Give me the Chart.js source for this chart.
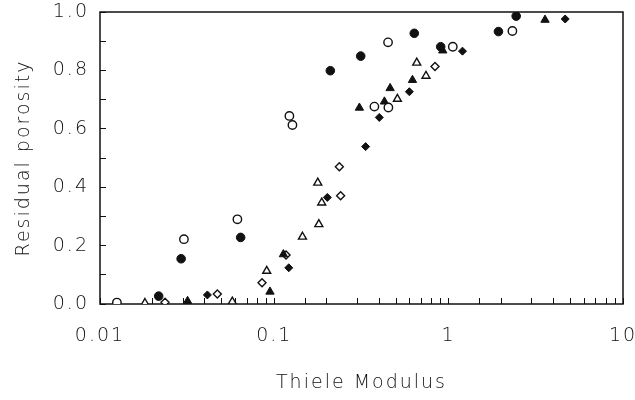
<!DOCTYPE html>
<html>
<head>
<meta charset="utf-8">
<script src="https://cdn.jsdelivr.net/npm/chart.js@4/dist/chart.umd.min.js"></script>
<style>
  html, body { margin: 0; padding: 0; background: #fff; }
  #wrap { width: 635px; height: 400px; position: relative; }
</style>
</head>
<body>
<div id="wrap"><canvas id="porosityChart"></canvas></div>
<script>
// Thiele modulus (x) vs residual porosity (y)
const filledCircleX = [0.0217, 0.0292, 0.0641, 0.2095, 0.313, 0.635, 0.90, 1.93, 2.44];
const filledCircleY = [0.027, 0.155, 0.228, 0.799, 0.849, 0.927, 0.881, 0.933, 0.986];

const openCircleX = [0.0125, 0.0303, 0.0614, 0.122, 0.127, 0.375, 0.451, 0.449, 1.056, 2.32];
const openCircleY = [0.005, 0.222, 0.290, 0.644, 0.613, 0.676, 0.673, 0.896, 0.881, 0.935];

const filledTriangleX = [0.0318, 0.0944, 0.1127, 0.3076, 0.428, 0.4616, 0.62, 0.925, 3.57];
const filledTriangleY = [0.010, 0.042, 0.170, 0.672, 0.693, 0.739, 0.767, 0.868, 0.973];

const openTriangleX = [0.0181, 0.0574, 0.0904, 0.145, 0.1775, 0.180, 0.187, 0.508, 0.656, 0.741];
const openTriangleY = [0.003, 0.008, 0.113, 0.230, 0.415, 0.273, 0.347, 0.702, 0.826, 0.781];

const filledDiamondX = [0.0413, 0.121, 0.2014, 0.334, 0.400, 0.595, 1.20, 4.66];
const filledDiamondY = [0.031, 0.124, 0.365, 0.539, 0.639, 0.727, 0.866, 0.976];

const openDiamondX = [0.0236, 0.0471, 0.085, 0.1167, 0.236, 0.240, 0.835];
const openDiamondY = [0.006, 0.034, 0.073, 0.168, 0.470, 0.371, 0.813];

const xTickLabels = ['0.01', '0.1', '1', '10'];
const yTickLabels = ['0.0', '0.2', '0.4', '0.6', '0.8', '1.0'];

const fontFamily = "'DejaVu Sans', 'Liberation Sans', sans-serif";
const ink = '#111';
const textFont = { size: 19, family: fontFamily, weight: 200 };

const pairUp = (xs, ys) => xs.map((x, i) => ({ x, y: ys[i] }));

const makeSet = (label, xs, ys, style, filled, radius) => ({
    label,
    data: pairUp(xs, ys),
    pointStyle: style,
    pointRadius: radius,
    pointHoverRadius: radius,
    borderColor: ink,
    backgroundColor: filled ? ink : '#fff',
    pointBorderWidth: filled ? 1 : 1.4,
    showLine: false,
});

// plot frame round the chart area + the wide letter spacing of the original
const framePlugin = {
    id: 'frame',
    beforeDraw(chart) {
        chart.ctx.letterSpacing = '2px';
    },
    beforeDatasetsDraw(chart) {
        const { ctx, chartArea: a } = chart;
        ctx.save();
        ctx.strokeStyle = ink;
        ctx.lineWidth = 1.5;
        ctx.strokeRect(a.left, a.top, a.right - a.left, a.bottom - a.top);
        ctx.restore();
    },
};

const ctx = document.getElementById('porosityChart').getContext('2d');
new Chart(ctx, {
    type: 'scatter',
    data: {
        datasets: [
            makeSet('open circles', openCircleX, openCircleY, 'circle', false, 4.2),
            makeSet('filled circles', filledCircleX, filledCircleY, 'circle', true, 4.3),
            makeSet('open triangles', openTriangleX, openTriangleY, 'triangle', false, 4.6),
            makeSet('filled triangles', filledTriangleX, filledTriangleY, 'triangle', true, 4.8),
            makeSet('open diamonds', openDiamondX, openDiamondY, 'rectRot', false, 4),
            makeSet('filled diamonds', filledDiamondX, filledDiamondY, 'rectRot', true, 4),
        ],
    },
    options: {
        responsive: true,
        maintainAspectRatio: false,
        animation: false,
        layout: { padding: { top: 12, right: 12, left: 0, bottom: 0 }, autoPadding: false },
        plugins: {
            legend: { display: false },
            tooltip: { enabled: false },
        },
        scales: {
            x: {
                type: 'logarithmic',
                min: 0.01,
                max: 10,
                border: { display: false },
                grid: { drawOnChartArea: false, drawTicks: true, tickLength: -6, color: ink, lineWidth: 1 },
                ticks: {
                    autoSkip: false,
                    maxRotation: 0,
                    padding: 27,
                    color: ink,
                    font: textFont,
                    callback: value => {
                        const e = Math.log10(value);
                        if (Math.abs(e - Math.round(e)) > 1e-9) return '';
                        return xTickLabels[Math.round(e) + 2] ?? '';
                    },
                },
                title: {
                    display: true,
                    text: 'Thiele Modulus',
                    color: ink,
                    font: textFont,
                    padding: { top: 0, bottom: 6 },
                },
                afterFit: scale => {
                    scale.height = 96;
                    scale.paddingLeft = 0;
                    scale.paddingRight = 0;
                },
            },
            y: {
                min: 0,
                max: 1,
                border: { display: false },
                grid: { drawOnChartArea: false, drawTicks: true, tickLength: -6, color: ink, lineWidth: 1 },
                ticks: {
                    stepSize: 0.1,
                    autoSkip: false,
                    padding: 17,
                    color: ink,
                    font: textFont,
                    callback: value => {
                        const k = Math.round(value * 10);
                        return k % 2 === 0 ? yTickLabels[k / 2] : '';
                    },
                },
                title: {
                    display: true,
                    text: 'Residual porosity',
                    color: ink,
                    font: textFont,
                    padding: { top: 13, bottom: 0 },
                },
                afterFit: scale => {
                    scale.width = 100;
                    scale.paddingTop = 0;
                    scale.paddingBottom = 0;
                },
            },
        },
    },
    plugins: [framePlugin],
});
</script>
</body>
</html>
